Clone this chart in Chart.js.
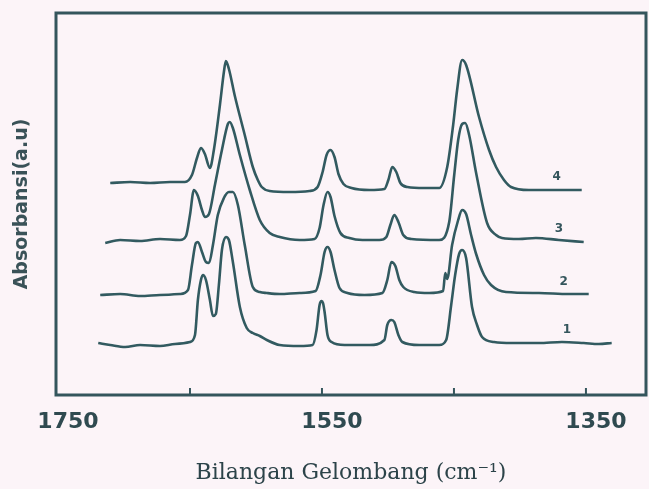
<!DOCTYPE html>
<html>
<head>
<meta charset="utf-8">
<script src="https://cdn.jsdelivr.net/npm/chart.js@4/dist/chart.umd.min.js"></script>
<style>
  html, body { margin: 0; padding: 0; background: #fcf4f8; }
  #wrap { width: 649px; height: 489px; }
</style>
</head>
<body>
<div id="wrap"><canvas id="spectrum"></canvas></div>
<script>
// FTIR spectra, 4 stacked traces (absorbance in a.u., offset per trace)
const tickValues = [1750, 1650, 1550, 1450, 1350];
const tickLabels = [1750, 1550, 1350];

const wave1 = [1719.5, 1710.4, 1699.1, 1687.8, 1672.7, 1661.3, 1650.0, 1646.2, 1644.0, 1641.7, 1640.2, 1637.9, 1634.9, 1632.6, 1630.4, 1628.1, 1625.8, 1622.8, 1620.5, 1617.5, 1612.2, 1607.0, 1602.4, 1597.1, 1591.8, 1582.0, 1566.9, 1557.1, 1554.1, 1551.8, 1550.3, 1549.2, 1548.0, 1545.8, 1542.7, 1532.9, 1514.0, 1502.7, 1500.5, 1497.4, 1495.2, 1492.1, 1489.1, 1476.3, 1461.2, 1455.9, 1452.1, 1449.1, 1446.1, 1443.8, 1440.8, 1436.3, 1432.5, 1428.7, 1419.6, 1406.0, 1385.6, 1368.2, 1351.7, 1340.3, 1330.5];
const abs1 = [0.52, 0.50, 0.48, 0.50, 0.49, 0.51, 0.53, 0.60, 0.95, 1.15, 1.20, 1.15, 0.95, 0.79, 0.81, 1.10, 1.45, 1.58, 1.55, 1.33, 0.88, 0.67, 0.62, 0.59, 0.55, 0.50, 0.49, 0.50, 0.65, 0.90, 0.94, 0.92, 0.83, 0.60, 0.53, 0.50, 0.50, 0.55, 0.70, 0.75, 0.73, 0.60, 0.53, 0.50, 0.50, 0.55, 0.90, 1.20, 1.41, 1.45, 1.37, 0.88, 0.70, 0.58, 0.53, 0.52, 0.52, 0.53, 0.52, 0.51, 0.52];

const wave2 = [1718.0, 1702.9, 1687.8, 1672.7, 1657.6, 1651.5, 1648.5, 1645.5, 1644.0, 1640.9, 1637.9, 1635.6, 1632.6, 1628.9, 1624.3, 1620.5, 1617.5, 1613.7, 1608.5, 1602.4, 1597.1, 1591.8, 1582.0, 1566.9, 1554.8, 1551.1, 1548.0, 1545.8, 1543.5, 1540.5, 1536.7, 1530.7, 1517.8, 1504.2, 1500.5, 1497.4, 1494.4, 1491.4, 1488.4, 1480.1, 1468.7, 1458.2, 1456.6, 1455.1, 1451.4, 1446.8, 1443.8, 1440.8, 1437.0, 1433.2, 1427.2, 1421.9, 1410.6, 1385.6, 1362.9, 1347.9];
const abs2 = [1.00, 1.01, 0.99, 1.00, 1.01, 1.05, 1.30, 1.52, 1.53, 1.43, 1.33, 1.32, 1.50, 1.80, 1.97, 2.03, 2.03, 1.90, 1.50, 1.08, 1.03, 1.02, 1.01, 1.02, 1.04, 1.20, 1.43, 1.48, 1.43, 1.25, 1.07, 1.02, 1.00, 1.02, 1.15, 1.33, 1.29, 1.15, 1.08, 1.03, 1.02, 1.04, 1.22, 1.16, 1.50, 1.75, 1.85, 1.81, 1.60, 1.41, 1.20, 1.10, 1.03, 1.02, 1.01, 1.01];

const wave3 = [1714.2, 1702.9, 1687.8, 1672.7, 1657.6, 1653.0, 1650.0, 1647.0, 1644.0, 1640.9, 1638.7, 1635.6, 1631.1, 1625.8, 1621.3, 1619.8, 1617.5, 1612.2, 1604.7, 1597.1, 1589.6, 1582.0, 1566.9, 1555.6, 1551.8, 1548.8, 1545.8, 1543.5, 1540.5, 1536.0, 1529.2, 1519.3, 1506.5, 1501.2, 1498.2, 1495.2, 1492.1, 1488.4, 1482.3, 1461.2, 1453.6, 1449.8, 1446.8, 1443.8, 1441.5, 1438.5, 1433.2, 1424.9, 1418.1, 1413.6, 1400.8, 1387.9, 1370.5, 1351.7];
const abs3 = [1.52, 1.55, 1.54, 1.56, 1.55, 1.59, 1.80, 2.05, 1.99, 1.85, 1.78, 1.81, 2.10, 2.45, 2.71, 2.73, 2.67, 2.40, 2.05, 1.75, 1.62, 1.58, 1.55, 1.56, 1.67, 1.90, 2.03, 1.98, 1.79, 1.62, 1.57, 1.55, 1.55, 1.58, 1.70, 1.80, 1.73, 1.60, 1.56, 1.55, 1.73, 2.20, 2.55, 2.71, 2.72, 2.60, 2.22, 1.72, 1.60, 1.57, 1.56, 1.57, 1.55, 1.53];

const wave4 = [1710.4, 1695.3, 1680.2, 1665.1, 1653.8, 1648.5, 1644.7, 1641.7, 1638.7, 1634.9, 1631.9, 1627.3, 1624.3, 1622.8, 1620.5, 1616.0, 1608.5, 1602.4, 1598.6, 1595.6, 1589.6, 1574.5, 1559.4, 1553.3, 1549.5, 1546.5, 1543.5, 1540.5, 1537.5, 1533.7, 1527.6, 1514.0, 1502.7, 1499.7, 1496.7, 1493.7, 1490.6, 1485.3, 1472.5, 1461.2, 1455.1, 1450.6, 1447.6, 1443.8, 1440.8, 1431.0, 1423.4, 1418.1, 1412.1, 1406.8, 1393.2, 1370.5, 1353.2];
const abs4 = [2.12, 2.13, 2.12, 2.13, 2.13, 2.20, 2.37, 2.47, 2.41, 2.27, 2.45, 2.90, 3.23, 3.34, 3.26, 2.99, 2.60, 2.28, 2.15, 2.08, 2.04, 2.03, 2.04, 2.08, 2.23, 2.40, 2.45, 2.38, 2.21, 2.11, 2.07, 2.05, 2.06, 2.15, 2.28, 2.23, 2.12, 2.08, 2.07, 2.07, 2.28, 2.70, 3.05, 3.35, 3.30, 2.78, 2.45, 2.28, 2.15, 2.08, 2.05, 2.05, 2.05];

// trace numbers written beside each curve
const traceNames = ['1', '2', '3', '4'];
const nameWave = [1364.5, 1366.8, 1370.5, 1372.1];
const nameAbs = [0.65, 1.13, 1.66, 2.18];

const ink = '#325a60';

function toPoints(xs, ys) {
    return xs.map((x, i) => ({ x: x, y: ys[i] }));
}

const paperBg = {
    id: 'paperBg',
    beforeDraw(chart) {
        const ctx = chart.ctx;
        ctx.save();
        ctx.fillStyle = '#fcf4f8';
        ctx.fillRect(0, 0, chart.width, chart.height);
        ctx.restore();
    }
};

const frameAndMarks = {
    id: 'frameAndMarks',
    afterDatasetsDraw(chart) {
        const { ctx, chartArea: a, scales } = chart;
        ctx.save();
        ctx.strokeStyle = '#34555c';
        ctx.lineWidth = 3;
        ctx.strokeRect(a.left, a.top, a.right - a.left, a.bottom - a.top);
        // inward tick marks on the bottom axis
        ctx.lineWidth = 2;
        tickValues.slice(1).forEach(v => {
            const px = scales.x.getPixelForValue(v);
            ctx.beginPath();
            ctx.moveTo(px, a.bottom);
            ctx.lineTo(px, a.bottom - 7);
            ctx.stroke();
        });
        // trace numbers
        ctx.fillStyle = '#34555c';
        ctx.font = 'bold 12px "DejaVu Sans"';
        ctx.textAlign = 'center';
        ctx.textBaseline = 'middle';
        traceNames.forEach((t, i) => {
            ctx.fillText(t, scales.x.getPixelForValue(nameWave[i]), scales.y.getPixelForValue(nameAbs[i]));
        });
        ctx.restore();
    }
};

const lineStyle = {
    borderColor: ink,
    borderWidth: 2.6,
    pointRadius: 0,
    fill: false,
    cubicInterpolationMode: 'monotone'
};

new Chart(document.getElementById('spectrum'), {
    type: 'line',
    data: {
        datasets: [
            { label: '1', data: toPoints(wave1, abs1), ...lineStyle },
            { label: '2', data: toPoints(wave2, abs2), ...lineStyle },
            { label: '3', data: toPoints(wave3, abs3), ...lineStyle },
            { label: '4', data: toPoints(wave4, abs4), ...lineStyle }
        ]
    },
    options: {
        responsive: true,
        maintainAspectRatio: false,
        animation: false,
        layout: { padding: { top: 13, right: 3, left: 0, bottom: 0 } },
        plugins: {
            legend: { display: false },
            tooltip: { enabled: false }
        },
        scales: {
            x: {
                type: 'linear',
                reverse: true,
                min: 1304.5,
                max: 1751.5,
                grid: { display: false },
                border: { display: false },
                afterBuildTicks(scale) {
                    scale.ticks = tickValues.map(v => ({ value: v }));
                },
                afterFit(scale) { scale.height = 94; },
                ticks: {
                    autoSkip: false,
                    maxRotation: 0,
                    padding: 6,
                    labelOffset: 10,
                    color: '#2f4a50',
                    font: { family: 'DejaVu Sans', size: 22, weight: 'bold' },
                    callback: v => tickLabels.includes(v) ? String(v) : ''
                },
                title: {
                    display: true,
                    text: 'Bilangan Gelombang (cm\u207B\u00B9)',
                    color: '#2c4349',
                    font: { family: 'DejaVu Serif', size: 22 },
                    padding: { top: 0, bottom: 3 }
                }
            },
            y: {
                min: 0,
                max: 3.82,
                grid: { display: false },
                border: { display: false },
                ticks: { display: false },
                afterFit(scale) { scale.width = 56; },
                title: {
                    display: true,
                    text: 'Absorbansi(a.u)',
                    color: '#3a5258',
                    font: { family: 'DejaVu Sans', size: 19, weight: 'bold' },
                    padding: { top: 11, bottom: 0 }
                }
            }
        }
    },
    plugins: [paperBg, frameAndMarks]
});
</script>
</body>
</html>
